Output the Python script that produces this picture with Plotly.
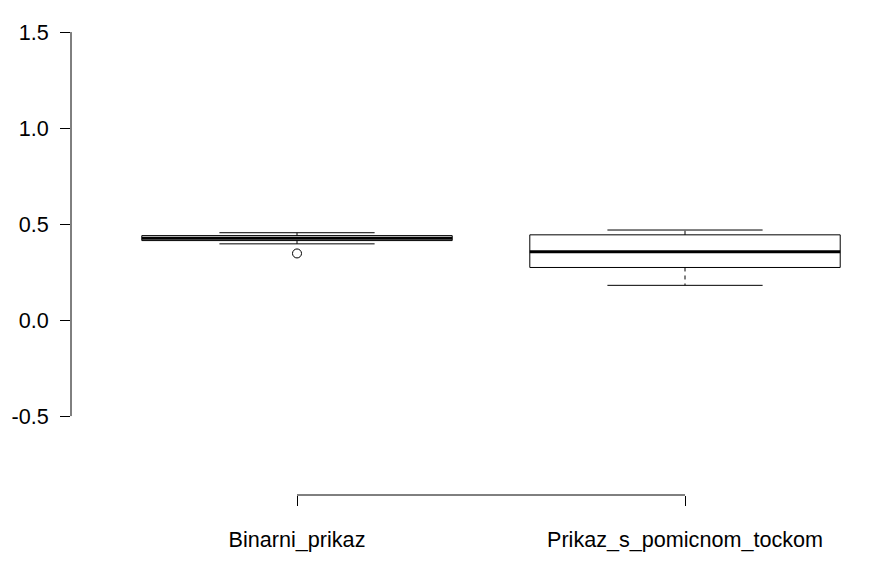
import plotly.graph_objects as go

categories = ["Binarni_prikaz", "Prikaz_s_pomicnom_tockom"]
lower_whisker = [0.397, 0.181]
q1 = [0.414, 0.274]
median = [0.426, 0.356]
q3 = [0.440, 0.444]
upper_whisker = [0.455, 0.469]
outlier_group = [1]
outlier_value = [0.347]

ytick_vals = [-0.5, 0.0, 0.5, 1.0, 1.5]
ytick_text = ["-0.5", "0.0", "0.5", "1.0", "1.5"]

BOX_HALF = 0.4
CAP_HALF = 0.2
FONT = "Liberation Sans, Arial, sans-serif"

fig = go.Figure()
pos = list(range(1, len(categories) + 1))

# boxes
bx, by = [], []
for i, p in enumerate(pos):
    bx += [p - BOX_HALF, p + BOX_HALF, p + BOX_HALF, p - BOX_HALF, p - BOX_HALF, None]
    by += [q1[i], q1[i], q3[i], q3[i], q1[i], None]
fig.add_trace(go.Scatter(x=bx, y=by, mode="lines", line=dict(color="black", width=1),
                         fill="toself", fillcolor="white", hoverinfo="skip", showlegend=False))

# dashed whiskers
wx, wy = [], []
for i, p in enumerate(pos):
    wx += [p, p, None, p, p, None]
    wy += [q3[i], upper_whisker[i], None, q1[i], lower_whisker[i], None]
fig.add_trace(go.Scatter(x=wx, y=wy, mode="lines", line=dict(color="black", width=1, dash="4px,4px"),
                         hoverinfo="skip", showlegend=False))

# whisker caps
cx, cy = [], []
for i, p in enumerate(pos):
    cx += [p - CAP_HALF, p + CAP_HALF, None, p - CAP_HALF, p + CAP_HALF, None]
    cy += [upper_whisker[i], upper_whisker[i], None, lower_whisker[i], lower_whisker[i], None]
fig.add_trace(go.Scatter(x=cx, y=cy, mode="lines", line=dict(color="black", width=1),
                         hoverinfo="skip", showlegend=False))

# medians
mx, my = [], []
for i, p in enumerate(pos):
    mx += [p - BOX_HALF, p + BOX_HALF, None]
    my += [median[i], median[i], None]
fig.add_trace(go.Scatter(x=mx, y=my, mode="lines", line=dict(color="black", width=3),
                         hoverinfo="skip", showlegend=False))

# outliers
fig.add_trace(go.Scatter(x=outlier_group, y=outlier_value, mode="markers",
                         marker=dict(symbol="circle-open", size=9, color="black", line=dict(width=1)),
                         showlegend=False))

fig.update_layout(
    width=873, height=578,
    margin=dict(l=71, r=0, t=0, b=83, autoexpand=False),
    paper_bgcolor="white", plot_bgcolor="white",
    font=dict(family=FONT, size=21.6, color="black"),
    showlegend=False,
    xaxis=dict(range=[0.4175, 2.4845], tickvals=pos, ticktext=categories,
               ticks="outside", ticklen=10, tickcolor="black", tickwidth=1, automargin=False,
               showline=False, showgrid=False, zeroline=False, ticklabelstandoff=15),
    yaxis=dict(range=[-0.911, 1.667], tickvals=ytick_vals, ticktext=ytick_text,
               ticks="outside", ticklen=10, tickcolor="black", tickwidth=1, automargin=False,
               showline=False, showgrid=False, zeroline=False, ticklabelstandoff=7),
    shapes=[
        dict(type="line", xref="paper", yref="y", x0=0, x1=0, y0=ytick_vals[0], y1=ytick_vals[-1],
             line=dict(color="black", width=1)),
        dict(type="line", xref="x", yref="paper", x0=pos[0], x1=pos[-1], y0=0, y1=0,
             line=dict(color="black", width=1)),
    ],
)

fig.write_html("out.html", config={"displayModeBar": False},
               post_script="document.body.style.margin='0px';")
